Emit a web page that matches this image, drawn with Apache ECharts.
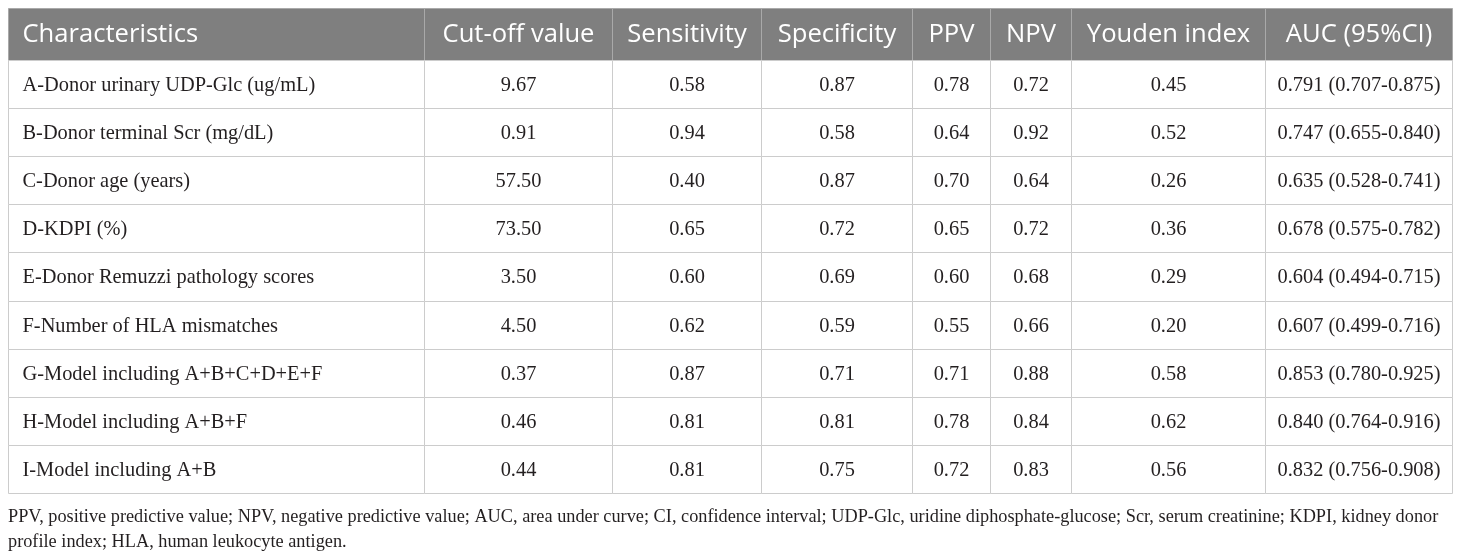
<!DOCTYPE html>
<html>
<head>
<meta charset="utf-8">
<script src="https://cdn.jsdelivr.net/npm/echarts@6/dist/echarts.min.js"></script>
<style>
html,body{margin:0;padding:0;background:#fff;}
#c{width:1460px;height:556px;}
</style>
</head>
<body>
<div id="c"></div>
<script>
const headers = ['Characteristics','Cut-off value','Sensitivity','Specificity','PPV','NPV','Youden index','AUC (95%CI)'];
const categories = [
  'A-Donor urinary UDP-Glc (ug/mL)',
  'B-Donor terminal Scr (mg/dL)',
  'C-Donor age (years)',
  'D-KDPI (%)',
  'E-Donor Remuzzi pathology scores',
  'F-Number of HLA mismatches',
  'G-Model including A+B+C+D+E+F',
  'H-Model including A+B+F',
  'I-Model including A+B'
];
const cutoff      = [9.67, 0.91, 57.50, 73.50, 3.50, 4.50, 0.37, 0.46, 0.44];
const sensitivity = [0.58, 0.94, 0.40, 0.65, 0.60, 0.62, 0.87, 0.81, 0.81];
const specificity = [0.87, 0.58, 0.87, 0.72, 0.69, 0.59, 0.71, 0.81, 0.75];
const ppv         = [0.78, 0.64, 0.70, 0.65, 0.60, 0.55, 0.71, 0.78, 0.72];
const npv         = [0.72, 0.92, 0.64, 0.72, 0.68, 0.66, 0.88, 0.84, 0.83];
const youden      = [0.45, 0.52, 0.26, 0.36, 0.29, 0.20, 0.58, 0.62, 0.56];
const auc         = [0.791, 0.747, 0.635, 0.678, 0.604, 0.607, 0.853, 0.840, 0.832];
const aucLow      = [0.707, 0.655, 0.528, 0.575, 0.494, 0.499, 0.780, 0.764, 0.756];
const aucHigh     = [0.875, 0.840, 0.741, 0.782, 0.715, 0.716, 0.925, 0.916, 0.908];
const footnote = 'PPV, positive predictive value; NPV, negative predictive value; AUC, area under curve; CI, confidence interval; UDP-Glc, uridine diphosphate-glucose; Scr, serum creatinine; KDPI, kidney donor\nprofile index; HLA, human leukocyte antigen.';

// layout (table geometry, not data)
const colEdges = [0, 416, 604, 753, 904, 982, 1063, 1257, 1444];
const headerH = 1.08; // header height in row units

const f2 = v => v.toFixed(2);
const f3 = v => v.toFixed(3);
const rowsText = categories.map((name, i) => [
  name, f2(cutoff[i]), f2(sensitivity[i]), f2(specificity[i]), f2(ppv[i]), f2(npv[i]), f2(youden[i]),
  f3(auc[i]) + ' (' + f3(aucLow[i]) + '-' + f3(aucHigh[i]) + ')'
]);

const cells = [];
headers.forEach((h, c) => cells.push({value: [c, 0], text: h}));
rowsText.forEach((row, r) => row.forEach((t, c) => cells.push({value: [c, r + 1], text: t})));

const chart = echarts.init(document.getElementById('c'), null, {renderer: 'canvas'});
chart.setOption({
  animation: false,
  backgroundColor: '#ffffff',
  grid: {left: 8, right: 8, top: 8, bottom: 63},
  xAxis: {type: 'value', min: 0, max: colEdges[colEdges.length - 1], show: false},
  yAxis: {type: 'value', min: 0, max: headerH + categories.length, inverse: true, show: false},
  series: [{
    type: 'custom',
    data: cells,
    renderItem: function (params, api) {
      const c = api.value(0), r = api.value(1);
      const cell = cells[params.dataIndex];
      const top = r === 0 ? 0 : headerH + (r - 1);
      const bot = r === 0 ? headerH : headerH + r;
      const p0 = api.coord([colEdges[c], top]);
      const p1 = api.coord([colEdges[c + 1], bot]);
      const x0 = Math.round(p0[0]) + 0.5, y0 = Math.round(p0[1]) + 0.5;
      const x1 = Math.round(p1[0]) + 0.5, y1 = Math.round(p1[1]) + 0.5;
      const isHead = r === 0;
      const left = c === 0;
      return {
        type: 'group',
        children: [{
          type: 'rect',
          shape: {x: x0, y: y0, width: x1 - x0, height: y1 - y0},
          style: {fill: isHead ? '#7f7f7f' : '#ffffff', stroke: isHead ? '#a9a9a9' : '#cccccc', lineWidth: 1}
        }, {
          type: 'text',
          style: {
            text: cell.text,
            x: left ? x0 + 14 : (x0 + x1) / 2,
            y: (y0 + y1) / 2 + (isHead ? 0 : 1),
            align: left ? 'left' : 'center',
            verticalAlign: 'middle',
            fill: isHead ? '#ffffff' : '#231f20',
            fontSize: isHead ? 25.6 : 20.4,
            fontFamily: isHead ? 'Open Sans' : 'Liberation Serif'
          }
        }]
      };
    }
  }],
  graphic: [{
    type: 'text',
    left: 8,
    top: 505,
    style: {
      text: footnote,
      fill: '#231f20',
      fontSize: 18.3,
      lineHeight: 25,
      fontFamily: 'Liberation Serif'
    }
  }]
});
</script>
</body>
</html>
